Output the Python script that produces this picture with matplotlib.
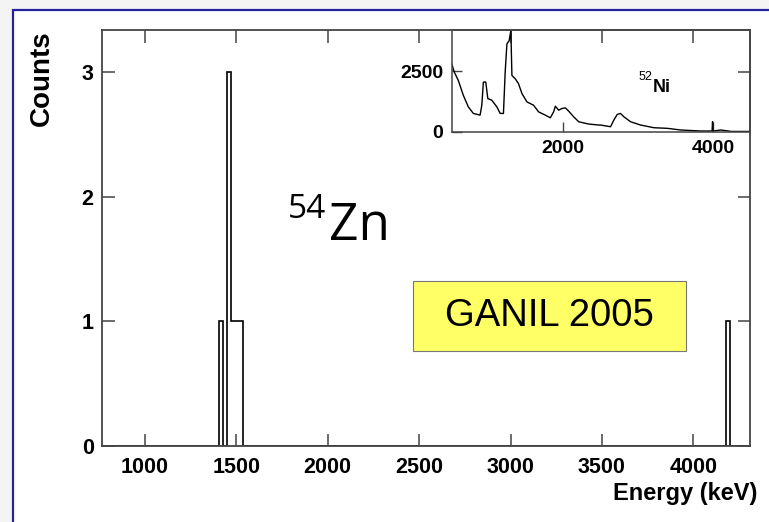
import numpy as np
import matplotlib
matplotlib.use("Agg")
import matplotlib.pyplot as plt
from matplotlib.patches import Rectangle

# ---- data ----
# 54Zn gamma events (keV), one entry per count
zn_events = [1416, 1460, 1460, 1460, 1482, 1505, 1527, 4191]
bin_width = 22.2
x_ticks_main = [1000, 1500, 2000, 2500, 3000, 3500, 4000]
y_ticks_main = [0, 1, 2, 3]

# 52Ni reference spectrum (inset), traced
ni_energy = [513, 548, 601, 668, 735, 802, 892, 915, 936, 968, 995, 1049, 1116,
             1160, 1204, 1227, 1250, 1280, 1303, 1317, 1361, 1405, 1451, 1518,
             1606, 1673, 1763, 1830, 1874, 1897, 1941, 1986, 2031, 2075, 2142,
             2209, 2343, 2477, 2500, 2634, 2678, 2723, 2767, 2812, 2902, 3036,
             3214, 3393, 3571, 3839, 3990, 3996, 4002, 4107, 4250, 4496]
ni_counts = [2803, 2459, 2119, 1504, 1025, 754, 684, 1094, 2049, 2049, 1369,
             1299, 1025, 754, 754, 2459, 3623, 3758, 4168, 2324, 2188, 1984,
             1574, 1230, 1094, 820, 684, 574, 820, 1053, 889, 959, 984, 848,
             615, 410, 316, 275, 275, 205, 480, 713, 754, 615, 410, 275, 164,
             139, 70, 29, 29, 410, 29, 70, 10, 10]
x_ticks_inset = [2000, 4000]
y_ticks_inset = [0, 2500]

W, H = 769, 522
fig = plt.figure(figsize=(W / 100, H / 100), dpi=100, facecolor="#f4f4f4")

def fx(px):
    return px / W

def fy(py):
    return 1 - py / H

# white slide area with blue border
fig.add_artist(Rectangle((fx(13), fy(540)), fx(800), fy(9.5) - fy(540),
                         transform=fig.transFigure, facecolor="white",
                         edgecolor="#2323a0", linewidth=1.6, zorder=0))

tick_font = dict(family="Liberation Sans", weight="bold")
spine_col = "#444444"

ax = fig.add_axes([fx(102), fy(446), fx(750) - fx(102), fy(30) - fy(446)])
ax.set_facecolor("none")
edges = np.arange(1405 - 30 * bin_width, 4400, bin_width)
hist, _ = np.histogram(zn_events, bins=edges)
ax.stairs(hist, edges, color="black", linewidth=1.2)
ax.set_xlim(765, 4310)
ax.set_ylim(0, 3.34)
ax.set_xticks(x_ticks_main)
ax.set_yticks(y_ticks_main)
ax.tick_params(direction="in", length=9, width=1.1, color=spine_col,
               top=True, right=True, labelsize=15.5)
ax.tick_params(axis="x", pad=8)
ax.tick_params(axis="y", pad=6)
for lab in ax.get_xticklabels() + ax.get_yticklabels():
    lab.set_fontfamily("Liberation Sans")
    lab.set_fontweight("bold")
for s in ax.spines.values():
    s.set_color(spine_col)
    s.set_linewidth(1.3)

fig.text(fx(42), fy(30), "Counts", rotation=90, ha="center", va="top",
         fontsize=20, **tick_font)
fig.text(fx(757), fy(500), "Energy (keV)", ha="right", va="baseline",
         fontsize=17, **tick_font)

# inset
ins = fig.add_axes([fx(451.7), fy(131.7), fx(750) - fx(451.7), fy(30) - fy(131.7)])
ins.set_facecolor("none")
ins.plot(ni_energy, ni_counts, color="black", linewidth=1.0)
ins.set_xlim(513, 4496)
ins.set_ylim(0, 4200)
ins.set_xticks(x_ticks_inset)
ins.set_yticks(y_ticks_inset)
ins.tick_params(direction="in", length=7.5, width=1.0, color=spine_col,
                labelsize=14)
ins.tick_params(axis="x", pad=6)
ins.tick_params(axis="y", pad=6)
for lab in ins.get_xticklabels() + ins.get_yticklabels():
    lab.set_fontfamily("Liberation Sans")
    lab.set_fontweight("bold")
for s in ins.spines.values():
    s.set_color(spine_col)
    s.set_linewidth(1.1)
fig.text(fx(639), fy(80), "52", ha="left", va="baseline", fontsize=9,
         family="Liberation Sans")
fig.text(fx(653), fy(92), "Ni", ha="left", va="baseline", fontsize=13,
         **tick_font)

# 54Zn label
fig.text(fx(288), fy(218), "54", ha="left", va="baseline", fontsize=24,
         family="Open Sans")
fig.text(fx(329), fy(240), "Zn", ha="left", va="baseline", fontsize=37,
         family="Open Sans")

# GANIL 2005 box
fig.add_artist(Rectangle((fx(412.7), fy(351)), fx(686) - fx(412.7), fy(281) - fy(351),
                         transform=fig.transFigure, facecolor="#ffff66",
                         edgecolor="#777777", linewidth=0.8, zorder=3))
fig.text(fx(549), fy(316), "GANIL 2005", ha="center", va="center",
         fontsize=27.5, family="Liberation Sans", zorder=4)

fig.savefig("out.png", dpi=100, facecolor=fig.get_facecolor())
